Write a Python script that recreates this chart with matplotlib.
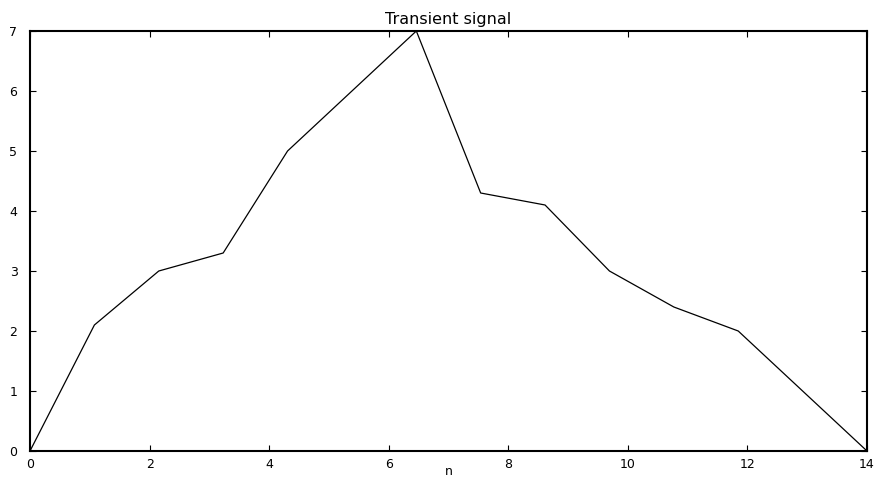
import matplotlib
matplotlib.use('Agg')
import matplotlib.pyplot as plt

# Sinal transiente: 14 amostras igualmente espacadas em [0, 14]
n = [0, 1.077, 2.154, 3.231, 4.308, 5.385, 6.462, 7.538, 8.615, 9.692,
     10.769, 11.846, 12.923, 14]
signal = [0, 2.1, 3.0, 3.3, 5.0, 6.0, 7.0, 4.3, 4.1, 3.0, 2.4, 2.0, 1.0, 0]
xticks = [0, 2, 4, 6, 8, 10, 12, 14]
yticks = [0, 1, 2, 3, 4, 5, 6, 7]

plt.rcParams.update({
    'font.family': ['DejaVu Sans'],
    'font.size': 9,
})

fig = plt.figure(figsize=(8.77, 4.78), dpi=100)
ax = fig.add_axes([30 / 877, 1 - 451 / 478, 837 / 877, 420 / 478])
ax.plot(n, signal, color='black', lw=0.9)
ax.set_xlim(0, 14)
ax.set_ylim(0, 7)
ax.set_xticks(xticks)
ax.set_yticks(yticks)
ax.tick_params(direction='in', top=True, right=True, length=4.5, width=0.8,
               pad=5, labelsize=9)
ax.tick_params(axis='y', pad=9)
for s in ax.spines.values():
    s.set_linewidth(1.5)
ax.set_title('Transient signal', fontsize=11.5, pad=5)
ax.set_xlabel('n', fontsize=9, labelpad=-4)

fig.savefig('out.png', dpi=100)
